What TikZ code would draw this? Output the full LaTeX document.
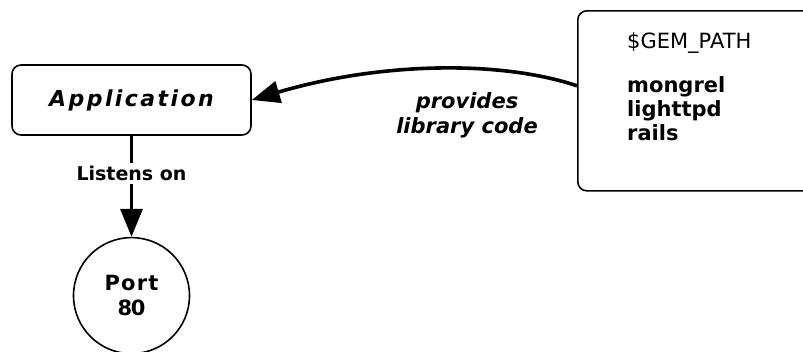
\documentclass[tikz,border=0pt]{standalone}
\usepackage{fontspec}
\setmainfont{DejaVu Sans}
\usepackage{tikz}
\usetikzlibrary{arrows.meta,positioning}

\begin{document}
\begin{tikzpicture}[x=1pt,y=-1pt,
  box/.style={draw,line width=1.6pt,rounded corners=9pt},
  conn/.style={line width=3.6pt,-{Triangle[length=28pt,width=22pt]}}]
\useasboundingbox (0,0) rectangle (803,351);
\node[box,minimum width=239pt,minimum height=70pt,
  font=\fontsize{22}{26}\selectfont\bfseries\itshape\addfontfeatures{LetterSpace=11}]
  (app) at (131.5,100) {Application};
\node[draw,circle,line width=1.6pt,minimum size=116pt,inner sep=0pt,below=101pt of app,
  align=center,font=\fontsize{21}{25}\selectfont\bfseries]
  (port) {{\addfontfeatures{LetterSpace=6}Port}\\{\addfontfeatures{LetterSpace=-6}80}};
\node[box,anchor=north west,minimum width=250pt,minimum height=180pt] (gem) at (577,10) {};
\node[anchor=north west,align=left,inner sep=0pt,font=\fontsize{21}{24}\selectfont]
  (gemlist) at ([shift={(50,22)}]gem.north west)
  {\$GEM\_PATH\\[20pt]\bfseries mongrel\\\bfseries lighttpd\\\bfseries rails};
\draw[conn] (app.south) -- (port.north)
  node[pos=0.37,fill=white,inner sep=3pt,font=\fontsize{19}{22}\selectfont\bfseries] (listens) {Listens on};
\draw[conn] ([yshift=15pt]gem.west) .. controls (500,60) and (380,62) .. (app.east);
\node[align=center,font=\fontsize{21}{25}\selectfont\bfseries\itshape] (provides) at (467,115)
  {provides\\library code};
\end{tikzpicture}
\end{document}
